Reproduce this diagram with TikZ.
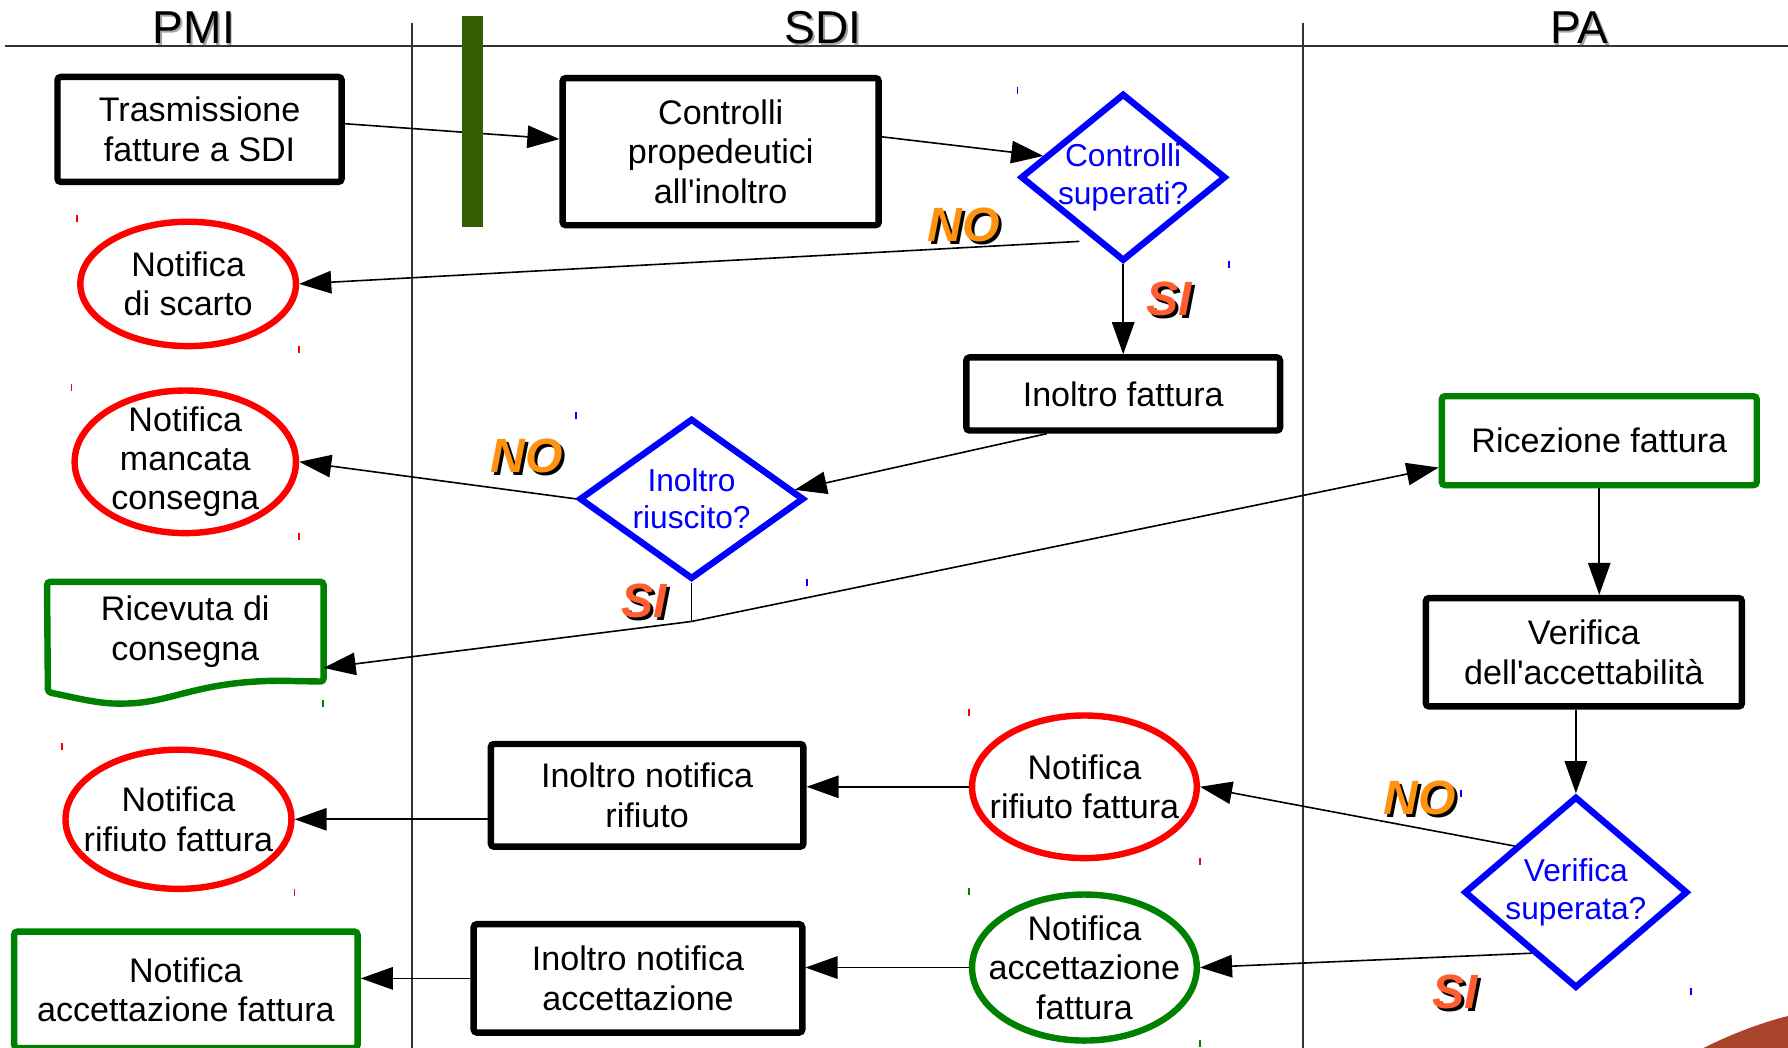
\documentclass[tikz,border=0pt]{standalone}
\usepackage{fontspec}
\setmainfont{Liberation Sans}
\usetikzlibrary{shapes.geometric}
\usetikzlibrary{arrows.meta}

\definecolor{bargreen}{RGB}{53,94,0}
\definecolor{okgreen}{RGB}{0,128,0}
\definecolor{noorange}{RGB}{255,146,16}
\definecolor{sired}{RGB}{255,92,48}
\definecolor{cornerbrown}{RGB}{169,67,42}

\tikzset{
  lane/.style={black!80,line width=0.45pt},
  hdr/.style={font=\fontsize{11.5}{13}\selectfont,anchor=base,inner sep=0pt},
  txt/.style={font=\fontsize{8.5}{9.8}\selectfont,align=center},
  qtxt/.style={font=\fontsize{7.9}{9.3}\selectfont,align=center,text=blue},
  box/.style={draw,line width=1.6pt,rounded corners=0.8pt,txt},
  dec/.style={diamond,draw=blue,line width=1.6pt,inner sep=0pt},
  oval/.style={ellipse,line width=1.6pt,inner sep=0pt},
  flow/.style={-{Triangle[length=8pt,width=5.6pt]},line width=0.4pt},
  link/.style={line width=0.4pt},
  ans/.style={font=\fontsize{12}{14}\selectfont\bfseries\itshape},
  handle/.style={line width=0.4pt},
}

\begin{document}
\begin{tikzpicture}[x=0.01cm,y=-0.01cm]
  \useasboundingbox (0,0) rectangle (1568,919);

  \draw[lane] (4,40) -- (1568,40);
  \draw[lane] (361,20) -- (361,919);
  \draw[lane] (1143,20) -- (1143,919);
  \foreach \n/\x/\t in {hpmi/170/PMI, hsdi/722/SDI, hpa/1385/PA}{
    \node[hdr,text=black!35] (sh\n) at (\x+1.5,40) {\t};
    \node[hdr] (\n) at (\x,38.5) {\t};
  }

  \node[box,minimum width=2.49cm,minimum height=0.92cm] (trasm) at (175,113.5) {Trasmissione\\fatture a SDI};
  \node[box,minimum width=2.77cm,minimum height=1.29cm] (ctrl) at (632,133) {Controlli\\propedeutici\\all\textquotesingle inoltro};
  \node[dec,minimum width=1.80cm,minimum height=1.47cm,
    label={[qtxt]center:{Controlli\\superati?}}] (q1) at (985,155.5) {};
  \node[oval,draw=red,minimum width=1.89cm,minimum height=1.09cm,
    label={[txt]center:{Notifica\\di scarto}}] (n1) at (165,249) {};
  \node[box,minimum width=2.75cm,minimum height=0.64cm] (fwd) at (985,345.5) {Inoltro fattura};
  \node[dec,minimum width=1.97cm,minimum height=1.41cm,
    label={[qtxt]center:{Inoltro\\riuscito?}}] (q2) at (606.5,437.5) {};
  \node[oval,draw=red,minimum width=1.94cm,minimum height=1.25cm,
    label={[txt]center:{Notifica\\mancata\\consegna}}] (n2) at (162.5,405) {};
  \node[txt,minimum width=2.41cm,minimum height=0.86cm] (rcv) at (162.5,554) {Ricevuta di\\consegna};
  \node[box,draw=okgreen,minimum width=2.76cm,minimum height=0.78cm] (rec) at (1402.5,386.5) {Ricezione fattura};
  \node[box,minimum width=2.77cm,minimum height=0.95cm] (ver) at (1389,572) {Verifica\\dell\textquotesingle accettabilità};
  \node[dec,minimum width=1.96cm,minimum height=1.68cm,
    label={[qtxt]center:{Verifica\\superata?}}] (q3) at (1382,782.5) {};
  \node[oval,draw=red,minimum width=1.97cm,minimum height=1.25cm,
    label={[txt]center:{Notifica\\rifiuto fattura}}] (n3) at (951,690) {};
  \node[oval,draw=okgreen,minimum width=1.97cm,minimum height=1.28cm,
    label={[txt]center:{Notifica\\accettazione\\fattura}}] (n4) at (951,848.5) {};
  \node[box,minimum width=2.74cm,minimum height=0.90cm] (fwdno) at (567.5,697.5) {Inoltro notifica\\rifiuto};
  \node[box,minimum width=2.88cm,minimum height=0.95cm] (fwdok) at (559.5,858) {Inoltro notifica\\accettazione};
  \node[oval,draw=red,minimum width=1.98cm,minimum height=1.22cm,
    label={[txt]center:{Notifica\\rifiuto fattura}}] (n5) at (156.5,718.5) {};
  \node[box,draw=okgreen,minimum width=3.01cm,minimum height=1.02cm] (acc) at (163,868) {Notifica\\accettazione fattura};

  \draw[okgreen,line width=1.6pt,rounded corners=0.8pt] (rcv.north west) -- (rcv.north east) -- (rcv.south east)
    -- (245,597) .. controls (170,598) and (150,617) .. (105,617) .. controls (85,617) and (62,611) .. (42,607) -- cycle;

  \draw[flow] ([yshift=0.05cm]trasm.east) -- ([yshift=0.11cm]ctrl.west);
  \draw[flow] ([yshift=0.13cm]ctrl.east) -- (q1.165);
  \draw[flow] ([xshift=0.08cm,yshift=-0.18cm]q1.south west) -- (n1.east);
  \draw[flow] (q1.south) -- (fwd.north);
  \draw[flow] ([xshift=-0.67cm]fwd.south) -- (q2.5);
  \draw[flow] (q2.west) -- (n2.east);
  \coordinate (jn) at (606.5,545);
  \draw[link] (q2.south) -- (jn);
  \draw[flow] (jn) -- ([yshift=0.12cm]rcv.south east);
  \draw[flow] (jn) -- ([yshift=-0.235cm]rec.west);
  \draw[flow] (rec.south) -- (rec.south |- ver.north);
  \draw[flow] (q3.north |- ver.south) -- (q3.north);
  \draw[flow] (q3.143) -- (n3.east);
  \draw[flow] (q3.234) -- (n4.east);
  \draw[flow] (n3.west) -- (n3.west -| fwdno.east);
  \draw[flow] (n5.east -| fwdno.west) -- (n5.east);
  \draw[flow] (n4.west) -- (n4.west -| fwdok.east);
  \draw[flow] (fwdok.west) -- (fwdok.west -| acc.east);

  \fill[bargreen] (405,14) rectangle (424,199);

  \foreach \n/\p/\c/\t in {no1/{845,197}/noorange/NO, si1/{1025,262}/sired/SI,
    no2/{462,400}/noorange/NO, si2/{565,527}/sired/SI,
    no3/{1245,700}/noorange/NO, si3/{1276,870}/sired/SI}{
    \node[ans] (sh\n) at ([shift={(0.8pt,-0.8pt)}]\p) {\t};
    \node[ans,text=\c] (\n) at (\p) {\t};
  }

  \foreach \s/\c in {n1/red,n2/red,n3/red,n5/red,n4/okgreen,q1/blue,q2/blue,q3/blue}{
    \draw[handle,\c] (\s.west |- \s.north) ++(0,-3) -- ++(0,6);
    \draw[handle,\c] (\s.east |- \s.south) ++(0,-3) -- ++(0,6);
  }
  \draw[handle,okgreen] (283,614) -- ++(0,6);

  \fill[cornerbrown] (1494,919) .. controls (1522,905) and (1548,896) .. (1568,891) -- (1568,919) -- cycle;
\end{tikzpicture}
\end{document}
